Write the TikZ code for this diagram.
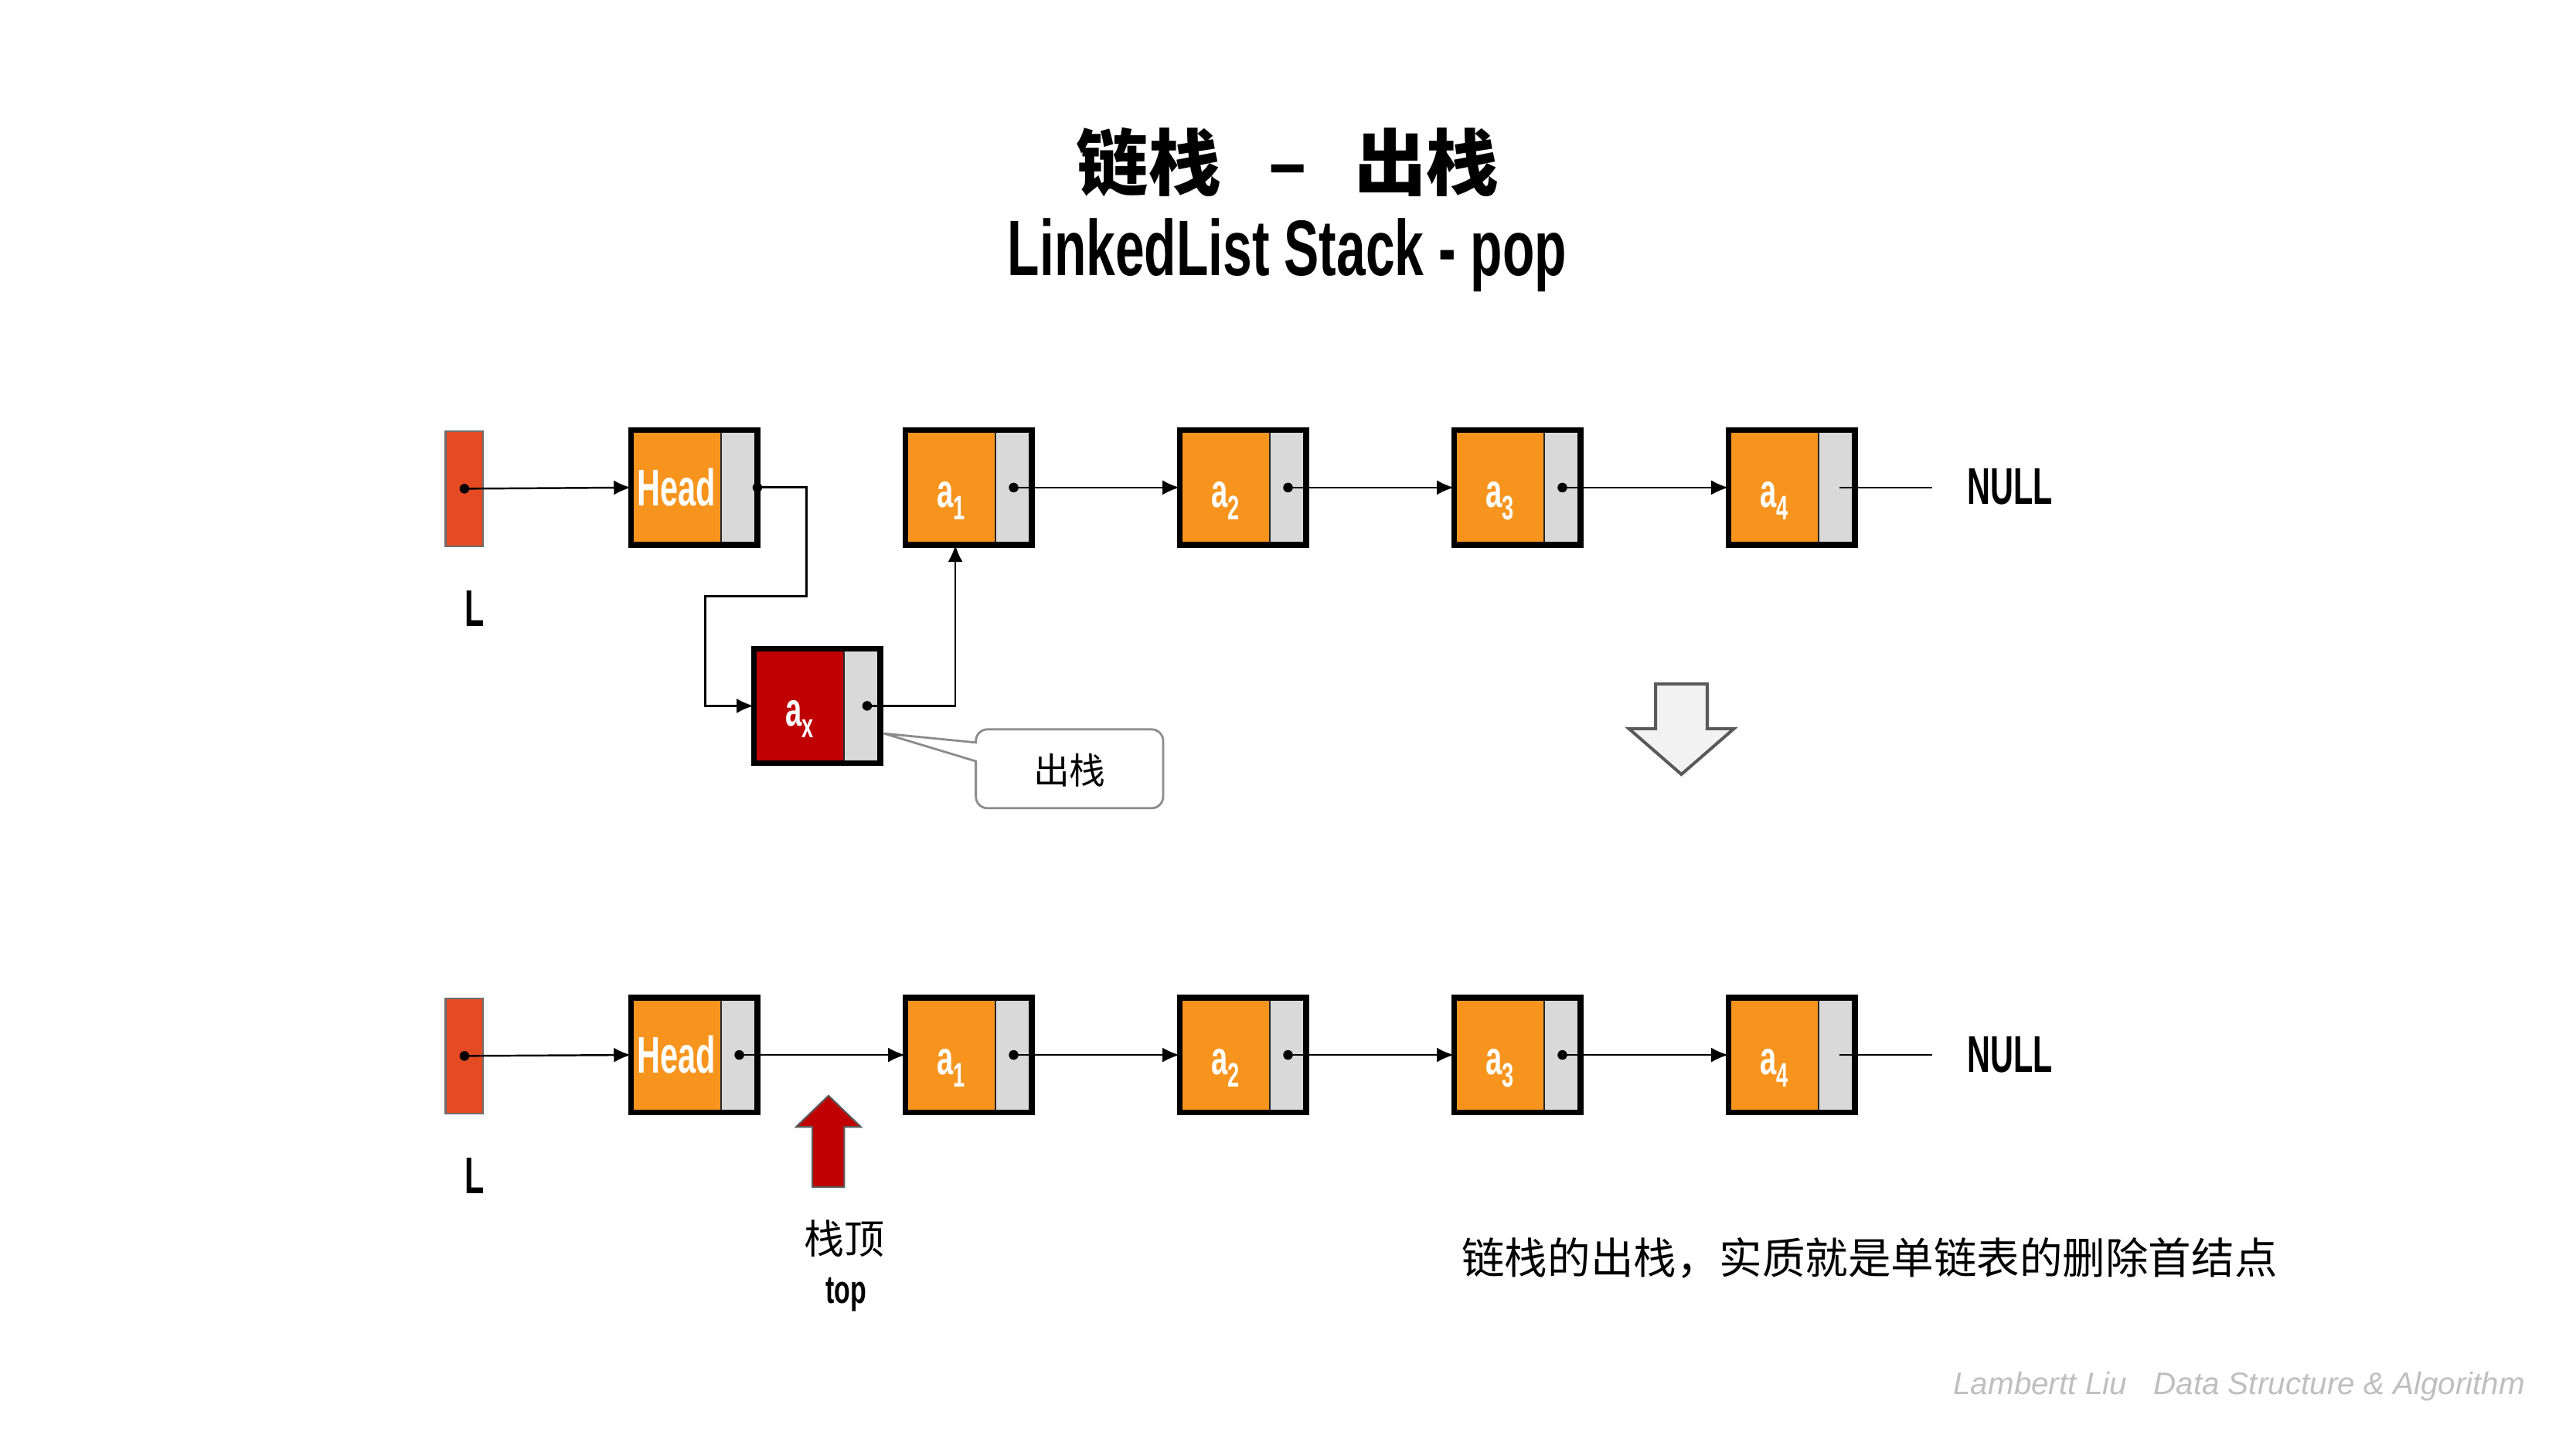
\documentclass[tikz,border=0pt]{standalone}
\usepackage{fontspec}
\usepackage{graphicx}
\usetikzlibrary{arrows.meta,calc}
\newfontfamily\cjk{Noto Sans CJK SC}
\newfontfamily\cond{Liberation Sans}[FakeStretch=0.62]
\newfontfamily\condw{Liberation Sans}[FakeStretch=0.665]
\newfontfamily\footfont{Liberation Sans}
\definecolor{nodeorange}{HTML}{F7941D}
\definecolor{ptrgray}{HTML}{D9D9D9}
\definecolor{axred}{HTML}{C00000}
\definecolor{lred}{HTML}{E44B23}
\definecolor{lborder}{HTML}{6E6E6E}
\definecolor{calloutgray}{HTML}{8C8C8C}
\definecolor{arrowgray}{HTML}{5A5A5A}
\definecolor{lightfill}{HTML}{F2F2F2}
\definecolor{footgray}{HTML}{BFBFBF}
\newcommand\subidx[1]{\raisebox{-4.4pt}{\fontsize{12.5pt}{13pt}\selectfont #1}}
\tikzset{
  listbox/.style={draw=black, line width=2.06pt, fill=nodeorange,
    minimum width=1.637cm, minimum height=1.481cm, inner sep=0pt, outer sep=0pt,
    path picture={
      \fill[ptrgray] ([xshift=-0.47cm]path picture bounding box.north east) rectangle (path picture bounding box.south east);
      \draw[line width=0.5pt, black!85] ([xshift=-0.47cm]path picture bounding box.north east) -- ([xshift=-0.47cm]path picture bounding box.south east);
    }},
  axbox/.style={listbox, fill=axred},
  lbox/.style={draw=lborder, line width=0.6pt, fill=lred, minimum width=0.489cm, minimum height=1.488cm, inner sep=0pt, outer sep=0pt},
  boxtext/.style={text=white, font=\cond\bfseries\fontsize{19pt}{20pt}\selectfont, inner sep=0pt},
  atext/.style={text=white, font=\cond\bfseries\fontsize{17.5pt}{18pt}\selectfont, inner sep=0pt, anchor=base},
  bigtext/.style={font=\cond\bfseries\fontsize{19pt}{20pt}\selectfont, inner sep=0pt},
  dot/.style={circle, fill=black, inner sep=0pt, minimum size=0.125cm},
  arr/.style={line width=0.7pt, -{Latex[length=0.22cm,width=0.19cm]}},
  plain/.style={line width=0.7pt},
}
\begin{document}
\begin{tikzpicture}[x=0.021256cm, y=-0.021256cm]
\useasboundingbox[fill=white] (0,0) rectangle (1568,882);

% titles
\node[font=\cjk\bfseries\fontsize{26.6pt}{30pt}\selectfont, inner sep=0pt] (t1) at (783.8,99) {链栈\hspace{0.65em}–\hspace{0.65em}出栈};
\node[font=\condw\bfseries\fontsize{29pt}{32pt}\selectfont, anchor=base, inner sep=0pt] (t2) at (783.5,167.5) {LinkedList Stack - pop};

% ---------- top row ----------
\node[lbox] (L1) at (282.7,297.5) {};
\node[bigtext] (L1t) at (289,370.5) {L};
\node[listbox] (H1) at (422.5,296.8) {};
\node[listbox] (a11) at (589.5,296.8) {};
\node[listbox] (a21) at (756.5,296.8) {};
\node[listbox] (a31) at (923.5,296.8) {};
\node[listbox] (a41) at (1090.5,296.8) {};
\node[boxtext] (H1t) at ([xshift=-0.225cm]H1.center) {Head};
\node[atext] (a11t) at ([xshift=-0.225cm,yshift=-0.259cm]a11.center) {a\subidx{1}};
\node[atext] (a21t) at ([xshift=-0.225cm,yshift=-0.259cm]a21.center) {a\subidx{2}};
\node[atext] (a31t) at ([xshift=-0.225cm,yshift=-0.259cm]a31.center) {a\subidx{3}};
\node[atext] (a41t) at ([xshift=-0.225cm,yshift=-0.259cm]a41.center) {a\subidx{4}};
\node[bigtext] (N1) at (1223.5,296.5) {NULL};

% callout (drawn before ax so that ax covers the wedge tip)
\draw[draw=calloutgray, line width=0.8pt, fill=white]
  (594,452) -- (538,446.5) -- (594,463.4) [rounded corners=0.15cm] -- (594,492) -- (708,492) -- (708,444) -- (594,444) [sharp corners] -- cycle;
\node[font=\cjk\fontsize{13.3pt}{14pt}\selectfont, inner sep=0pt] (co) at (651,469) {出栈};

\node[axbox] (ax) at (497.3,429.7) {};
\node[atext] (axt) at ([xshift=-0.225cm,yshift=-0.259cm]ax.center) {a\subidx{x}};

\node[dot] (Ld1) at (L1.center) {};
\node[dot] (Hd1) at (H1.east) {};
\node[dot] (axd) at ([xshift=-0.17cm]ax.east) {};
\node[dot] (a1d1) at ([xshift=-0.234cm]a11.east) {};
\node[dot] (a2d1) at ([xshift=-0.234cm]a21.east) {};
\node[dot] (a3d1) at ([xshift=-0.234cm]a31.east) {};
\coordinate (a4s1) at ([xshift=-0.2cm]a41.east);
\coordinate (n1end) at (1176,296.8);

\draw[arr] (Ld1.center) -- (H1.west);
\draw[arr, line width=0.8pt] (Hd1.center) -- ++(29.8,0) |- ++(-61.6,66.2) |- (ax.west);
\draw[arr, line width=0.8pt] (axd.center) -| ([xshift=-0.17cm]a11.south);
\draw[arr] (a1d1.center) -- (a21.west);
\draw[arr] (a2d1.center) -- (a31.west);
\draw[arr] (a3d1.center) -- (a41.west);
\draw[plain] (a4s1) -- (n1end);

% big down arrow
\draw[draw=arrowgray, line width=1.15pt, fill=lightfill, line join=miter]
  (1007.7,416.4) -- (1039.2,416.4) -- (1039.2,443.6) -- (1055.4,443.6) -- (1023.45,471.4) -- (991.5,443.6) -- (1007.7,443.6) -- cycle;

% ---------- bottom row ----------
\node[lbox] (L2) at (282.7,642.8) {};
\node[bigtext] (L2t) at (289,715.8) {L};
\node[listbox] (H2) at (422.5,642.2) {};
\node[listbox] (a12) at (589.5,642.2) {};
\node[listbox] (a22) at (756.5,642.2) {};
\node[listbox] (a32) at (923.5,642.2) {};
\node[listbox] (a42) at (1090.5,642.2) {};
\node[boxtext] (H2t) at ([xshift=-0.225cm]H2.center) {Head};
\node[atext] (a12t) at ([xshift=-0.225cm,yshift=-0.259cm]a12.center) {a\subidx{1}};
\node[atext] (a22t) at ([xshift=-0.225cm,yshift=-0.259cm]a22.center) {a\subidx{2}};
\node[atext] (a32t) at ([xshift=-0.225cm,yshift=-0.259cm]a32.center) {a\subidx{3}};
\node[atext] (a42t) at ([xshift=-0.225cm,yshift=-0.259cm]a42.center) {a\subidx{4}};
\node[bigtext] (N2) at (1223.5,641.9) {NULL};

\node[dot] (Ld2) at (L2.center) {};
\node[dot] (Hd2) at ([xshift=-0.234cm]H2.east) {};
\node[dot] (a1d2) at ([xshift=-0.234cm]a12.east) {};
\node[dot] (a2d2) at ([xshift=-0.234cm]a22.east) {};
\node[dot] (a3d2) at ([xshift=-0.234cm]a32.east) {};
\coordinate (a4s2) at ([xshift=-0.2cm]a42.east);
\coordinate (n2end) at (1176,642.2);

\draw[arr] (Ld2.center) -- (H2.west);
\draw[arr] (Hd2.center) -- (a12.west);
\draw[arr] (a1d2.center) -- (a22.west);
\draw[arr] (a2d2.center) -- (a32.west);
\draw[arr] (a3d2.center) -- (a42.west);
\draw[plain] (a4s2) -- (n2end);

% red top pointer
\draw[draw=arrowgray, line width=0.6pt, fill=axred, line join=miter]
  (494.5,722.6) -- (494.5,686) -- (484.6,686) -- (504.3,667) -- (524,686) -- (513.9,686) -- (513.9,722.6) -- cycle;
\node[font=\cjk\fontsize{14.8pt}{16pt}\selectfont, inner sep=0pt] (topcn) at (513.8,754) {栈顶};
\node[font=\condw\bfseries\fontsize{14.5pt}{15pt}\selectfont, inner sep=0pt, anchor=base] (topen) at (515,793.6) {top};

% notes
\node[font=\cjk\fontsize{15.8pt}{17pt}\selectfont, inner sep=0pt] (note) at (1138,766) {链栈的出栈，实质就是单链表的删除首结点};
\node[font=\footfont\itshape\fontsize{11.5pt}{12pt}\selectfont, text=footgray, anchor=base, inner sep=0pt] (ft) at (1363,849) {Lambertt Liu\hspace{0.85em}Data Structure \& Algorithm};
\end{tikzpicture}
\end{document}
